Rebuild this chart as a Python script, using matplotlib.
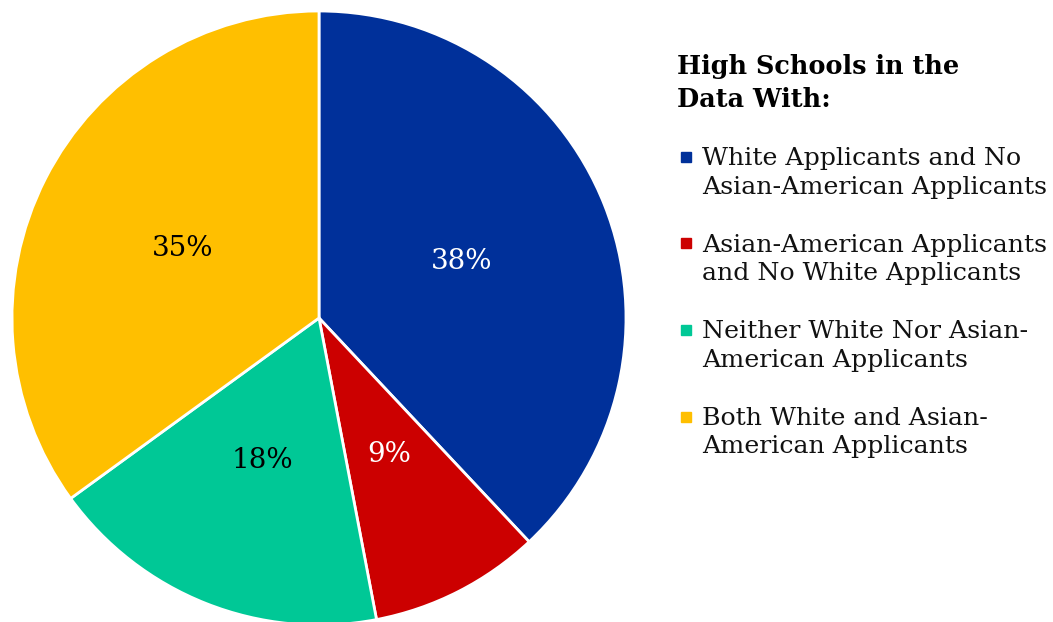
import matplotlib.pyplot as plt
from matplotlib.patches import Rectangle

# data
labels = ["White Applicants and No\nAsian-American Applicants",
          "Asian-American Applicants\nand No White Applicants",
          "Neither White Nor Asian-\nAmerican Applicants",
          "Both White and Asian-\nAmerican Applicants"]
shares = [38, 9, 18, 35]
colors = ["#00309a", "#cc0000", "#00c896", "#ffbf00"]
pct_colors = ["white", "white", "black", "black"]
legend_title = "High Schools in the\nData With:"

plt.rcParams['font.family'] = ['DejaVu Serif']

W, H = 1053, 622
fig = plt.figure(figsize=(W / 100, H / 100), dpi=100)

# pie axes: center (319, 318) px from top, radius 307 px
R = 307
cx, cy = 319, H - 318
ax = fig.add_axes([(cx - R) / W, (cy - R) / H, 2 * R / W, 2 * R / H])
wedges, texts, autotexts = ax.pie(shares, colors=colors, startangle=90, counterclock=False,
                                  autopct='%d%%', pctdistance=0.5,
                                  wedgeprops=dict(edgecolor='white', linewidth=2))
for t, c in zip(autotexts, pct_colors):
    t.set_color(c)
    t.set_fontsize(20)
ax.set_xlim(-1, 1)
ax.set_ylim(-1, 1)
ax.set_aspect('equal')
ax.axis('off')

# legend drawn by hand
fig.text(677 / W, 1 - 83 / H, legend_title, fontsize=18.4, fontweight='bold',
         va='center', ha='left', linespacing=1.37)
y0 = 173
for i, (lab, col) in enumerate(zip(labels, colors)):
    y = y0 + i * 86.5
    fig.text(702 / W, 1 - y / H, lab, fontsize=18.2, va='center', ha='left',
             linespacing=1.28, color='#111111')
    fig.add_artist(Rectangle((681 / W, 1 - (y - 16 + 5) / H), 10 / W, 10 / H,
                             transform=fig.transFigure, color=col))

fig.savefig("out.png", dpi=100)
